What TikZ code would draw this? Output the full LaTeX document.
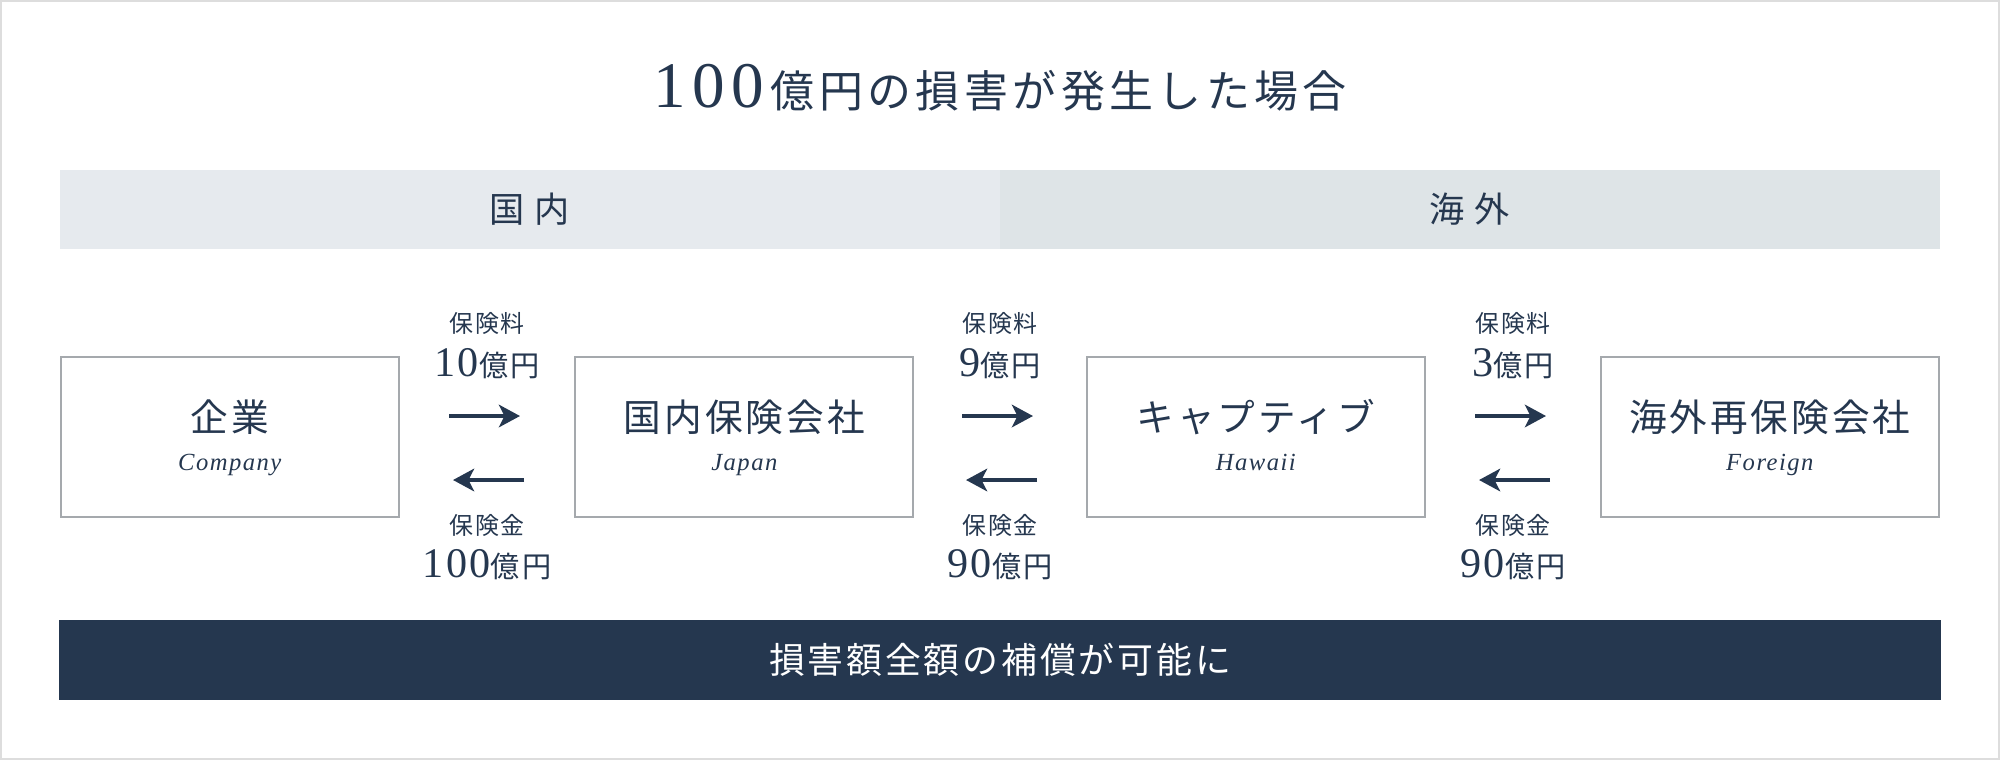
\documentclass[tikz,border=0pt]{standalone}
\usepackage{fontspec}
\setmainfont{Liberation Serif}
\newfontfamily\jpfont{Noto Sans CJK JP}[LetterSpace=8]
\newfontfamily\jpband{Noto Sans CJK JP}[LetterSpace=28]
\newfontfamily\jptitle{Noto Sans CJK JP}[LetterSpace=10]
\newfontfamily\numfont{Liberation Serif}[LetterSpace=6]
\newfontfamily\numwide{Liberation Serif}[LetterSpace=10]
\newfontfamily\enfont{Liberation Serif}[LetterSpace=6]
\usetikzlibrary{arrows.meta}
\definecolor{navy}{HTML}{25374F}
\definecolor{boxline}{HTML}{A5A9AD}
\definecolor{bandl}{HTML}{E6EAEE}
\definecolor{bandr}{HTML}{DEE4E7}
\definecolor{outerline}{HTML}{DDDDDD}
\newcommand\oku[1]{{\numfont\fontsize{12}{14}\selectfont #1}{\jpfont\fontsize{8.3}{10}\selectfont 億円}}
\begin{document}
\begin{tikzpicture}[x=0.01cm,y=-0.01cm,
  box/.style={draw=boxline, line width=0.6pt, minimum width=3.38cm, minimum height=1.6cm, inner sep=0pt},
  bandcell/.style={minimum width=9.4cm, minimum height=0.79cm, inner sep=0pt, text=navy, font=\jpband\fontsize{10}{12}\selectfont},
  boxjp/.style={text=navy, inner sep=0pt, font=\jpfont\fontsize{10.7}{13}\selectfont},
  boxen/.style={text=navy, inner sep=0pt, anchor=base, font=\enfont\itshape\fontsize{7}{9}\selectfont},
  item/.style={text=navy, inner sep=0pt, font=\jpfont\fontsize{6.8}{8}\selectfont},
  money/.style={text=navy, inner sep=0pt},
  flow/.style={draw=navy, line width=1.15pt, -{Stealth[length=6pt,width=6.4pt,inset=1.6pt]}}]
\useasboundingbox (0,0) rectangle (2000,760);
\draw[outerline, line width=0.57pt] (1,1) rectangle (1999,759);

\node[text=navy, inner sep=0pt] (title) at (1000,88) {{\numwide\fontsize{18.5}{20}\selectfont 100}\hspace{2pt}{\jptitle\fontsize{12.5}{15}\selectfont 億円の損害が発生した場合}};

\node[bandcell, fill=bandl] (domestic) at (530,209.5) {国内};
\node[bandcell, fill=bandr] (overseas) at (1470,209.5) {海外};

\node[box] (kigyo) at (229.8,437) {};
\node[box] (kokunai) at (744.3,437) {};
\node[box] (captive) at (1255.8,437) {};
\node[box] (kaigai) at (1769.8,437) {};

\node[boxjp] (kigyo-jp) at (229.8,417) {企業};
\node[boxen] (kigyo-en) at (229.8,470) {Company};
\node[boxjp] (kokunai-jp) at (744.3,417) {国内保険会社};
\node[boxen] (kokunai-en) at (744.3,470) {Japan};
\node[boxjp] (captive-jp) at (1255.8,417) {キャプティブ};
\node[boxen] (captive-en) at (1255.8,470) {Hawaii};
\node[boxjp] (kaigai-jp) at (1769.8,417) {海外再保険会社};
\node[boxen] (kaigai-en) at (1769.8,470) {Foreign};

\node[item] (prem1) at (487,323) {保険料};
\node[money] (prem1v) at (487,364) {\oku{10}};
\node[item] (claim1) at (487,525) {保険金};
\node[money] (claim1v) at (487,565) {\oku{100}};
\coordinate (p1s) at (449,416);
\coordinate (p1e) at (520,416);
\coordinate (c1s) at (524,480);
\coordinate (c1e) at (453,480);

\node[item] (prem2) at (1000,323) {保険料};
\node[money] (prem2v) at (1000,364) {\oku{9}};
\node[item] (claim2) at (1000,525) {保険金};
\node[money] (claim2v) at (1000,565) {\oku{90}};
\coordinate (p2s) at (962,416);
\coordinate (p2e) at (1033,416);
\coordinate (c2s) at (1037,480);
\coordinate (c2e) at (966,480);

\node[item] (prem3) at (1513,323) {保険料};
\node[money] (prem3v) at (1513,364) {\oku{3}};
\node[item] (claim3) at (1513,525) {保険金};
\node[money] (claim3v) at (1513,565) {\oku{90}};
\coordinate (p3s) at (1475,416);
\coordinate (p3e) at (1546,416);
\coordinate (c3s) at (1550,480);
\coordinate (c3e) at (1479,480);

\path[flow] (p1s) -- (p1e);
\path[flow] (c1s) -- (c1e);
\path[flow] (p2s) -- (p2e);
\path[flow] (c2s) -- (c2e);
\path[flow] (p3s) -- (p3e);
\path[flow] (c3s) -- (c3e);

\node[fill=navy, minimum width=18.8cm, minimum height=0.79cm, inner sep=0pt, text=white, font=\jpfont\fontsize{10.2}{12}\selectfont] (result) at (1000,660) {損害額全額の補償が可能に};
\end{tikzpicture}
\end{document}
